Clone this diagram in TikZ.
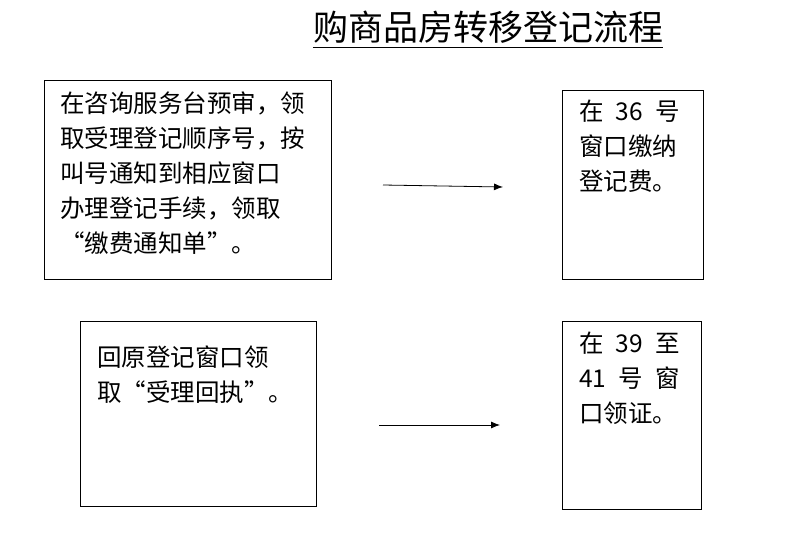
\documentclass[tikz,border=0pt]{standalone}
\usepackage{fontspec}
\newfontfamily\cjk{Noto Sans CJK SC}
\usetikzlibrary{positioning,arrows.meta}
\tikzset{
  stepbox/.style={draw,thick},
  boxtext/.style={anchor=north west,align=left,inner sep=0pt,font=\cjk\fontsize{24.5}{35}\selectfont},
  flowarrow/.style={thick,-{Latex[length=9pt,width=7pt]}}
}
\begin{document}
\begin{tikzpicture}[x=1pt,y=-1pt]
\useasboundingbox (0,0) rectangle (812,536);
% title
\node[font=\cjk\fontsize{35}{40}\selectfont,inner sep=0pt] (title) at (488,27) {购商品房转移登记流程};
\draw[thick] (title.south west) ++(0,4) -- ([yshift=-4pt]title.south east);
% boxes
\node[stepbox,minimum width=287,minimum height=199,anchor=north west] (apply) at (44,80) {};
\node[stepbox,minimum width=141,minimum height=189,anchor=north west] (fee) at (562,90) {};
\node[stepbox,minimum width=236,minimum height=185,anchor=north west] (receipt) at (80,321) {};
\node[stepbox,minimum width=139,minimum height=188,anchor=north west] (cert) at (562,321) {};
% texts
\node[boxtext] (applytext) at (60,92) {在咨询服务台预审，领\\取受理登记顺序号，按\\叫号通知到相应窗口\\办理登记手续，领取\\“缴费通知单”。};
\node[boxtext] (feetext) at (579,100) {在\enspace 36\enspace 号\\窗口缴纳\\登记费。};
\node[boxtext] (receipttext) at (97,346) {回原登记窗口领\\取“受理回执”。};
\node[boxtext] (certtext) at (579,332) {在\enspace 39\enspace 至\\41\enspace 号\enspace 窗\\口领证。};
% arrows
\coordinate (a1s) at (383,185); \coordinate (a1e) at (503,187);
\coordinate (a2s) at (379,425); \coordinate (a2e) at (500,425);
\draw[flowarrow] (a1s) -- (a1e);
\draw[flowarrow] (a2s) -- (a2e);
\end{tikzpicture}
\end{document}
